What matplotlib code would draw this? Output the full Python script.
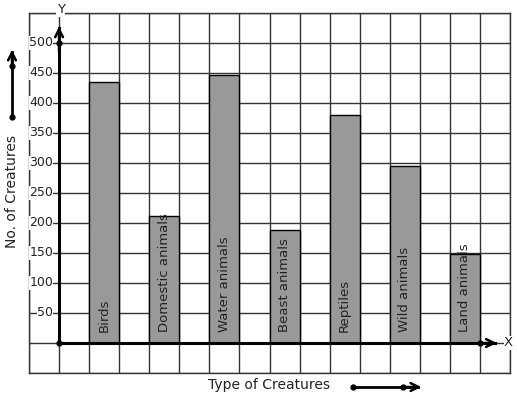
import matplotlib
matplotlib.use("Agg")
import matplotlib.pyplot as plt

categories = ["Birds", "Domestic animals", "Water animals", "Beast animals",
              "Reptiles", "Wild animals", "Land animals"]
values = [435, 211, 446, 188, 380, 295, 148]
yticks = [50, 100, 150, 200, 250, 300, 350, 400, 450, 500]
ytick_labels = ["50", "100", "150", "200", "250", "300", "350", "400", "450", "500"]

W, H = 517, 399
fig = plt.figure(figsize=(W / 100, H / 100), dpi=100)
ax = fig.add_axes([29 / W, (H - 373) / H, (510 - 29) / W, (373 - 13) / H])
ax.set_xlim(-1, 15)
ax.set_ylim(-50, 550)

# grid
ax.set_xticks(range(-1, 16))
ax.set_yticks(range(-50, 551, 50))
ax.tick_params(length=0, labelbottom=False, labelleft=False)
ax.grid(True, color="#333333", linewidth=1.0)
ax.set_axisbelow(True)
for s in ax.spines.values():
    s.set_color("#333333")
    s.set_linewidth(1.0)

# bars
xs = [1.5 + 2 * i for i in range(len(categories))]
ax.bar(xs, values, width=1.0, color="#999999", edgecolor="black", linewidth=1.0, zorder=3)
for x, c in zip(xs, categories):
    ax.text(x, 18, c, rotation=90, ha="center", va="bottom", fontsize=9.5,
            color="#222222", zorder=4)

# axes lines
ax.plot([0, 0], [0, 525], color="black", linewidth=2.2, zorder=5, clip_on=False)
ax.plot([0, 14.5], [0, 0], color="black", linewidth=2.2, zorder=5, clip_on=False)
ax.annotate("", xy=(0, 532), xytext=(0, 480),
            arrowprops=dict(arrowstyle="->", color="black", lw=1.8, mutation_scale=14),
            zorder=6, annotation_clip=False)
ax.annotate("", xy=(14.65, 0), xytext=(14.0, 0),
            arrowprops=dict(arrowstyle="->", color="black", lw=1.8, mutation_scale=14),
            zorder=6, annotation_clip=False)
ax.plot([0, 0, 14], [0, 500, 0], "o", color="black", markersize=3.5, zorder=7, clip_on=False)

# y tick labels
for v, lab in zip(yticks, ytick_labels):
    ax.text(-0.2, v, lab, ha="right", va="center", fontsize=9, color="#222222",
            bbox=dict(facecolor="white", edgecolor="none", pad=0.3), zorder=5)

ax.text(0.05, 555, "Y", ha="center", va="center", fontsize=9.5, color="#222222",
        bbox=dict(facecolor="white", edgecolor="none", pad=0.5), zorder=6, clip_on=False)
ax.text(14.95, 0, "X", ha="center", va="center", fontsize=9.5, color="#222222",
        bbox=dict(facecolor="white", edgecolor="none", pad=0.3), zorder=6, clip_on=False)

# axis titles
fig.text(12 / W, 1 - 192 / H, "No. of Creatures", rotation=90, ha="center", va="center",
         fontsize=10, color="#222222")
fig.text(269.5 / W, 1 - 385 / H, "Type of Creatures", ha="center", va="center",
         fontsize=10, color="#222222")

# decorative arrows
fig.add_artist(matplotlib.lines.Line2D([12 / W, 12 / W], [1 - 117 / H, 1 - 52 / H],
                                       color="black", linewidth=2, transform=fig.transFigure))
fig.add_artist(matplotlib.patches.FancyArrowPatch((12 / W, 1 - 70 / H), (12 / W, 1 - 47 / H),
                                                  arrowstyle="->", mutation_scale=14, lw=1.8,
                                                  color="black", transform=fig.transFigure))
fig.add_artist(matplotlib.lines.Line2D([12 / W, 12 / W], [1 - 117 / H, 1 - 66 / H],
                                       marker="o", markersize=3.5, linestyle="none",
                                       color="black", transform=fig.transFigure))
fig.add_artist(matplotlib.lines.Line2D([353 / W, 418 / W], [1 - 387 / H, 1 - 387 / H],
                                       color="black", linewidth=2, transform=fig.transFigure))
fig.add_artist(matplotlib.patches.FancyArrowPatch((400 / W, 1 - 387 / H), (424 / W, 1 - 387 / H),
                                                  arrowstyle="->", mutation_scale=14, lw=1.8,
                                                  color="black", transform=fig.transFigure))
fig.add_artist(matplotlib.lines.Line2D([353 / W, 403 / W], [1 - 387 / H, 1 - 387 / H],
                                       marker="o", markersize=3.5, linestyle="none",
                                       color="black", transform=fig.transFigure))

fig.savefig("out.png", dpi=100)
